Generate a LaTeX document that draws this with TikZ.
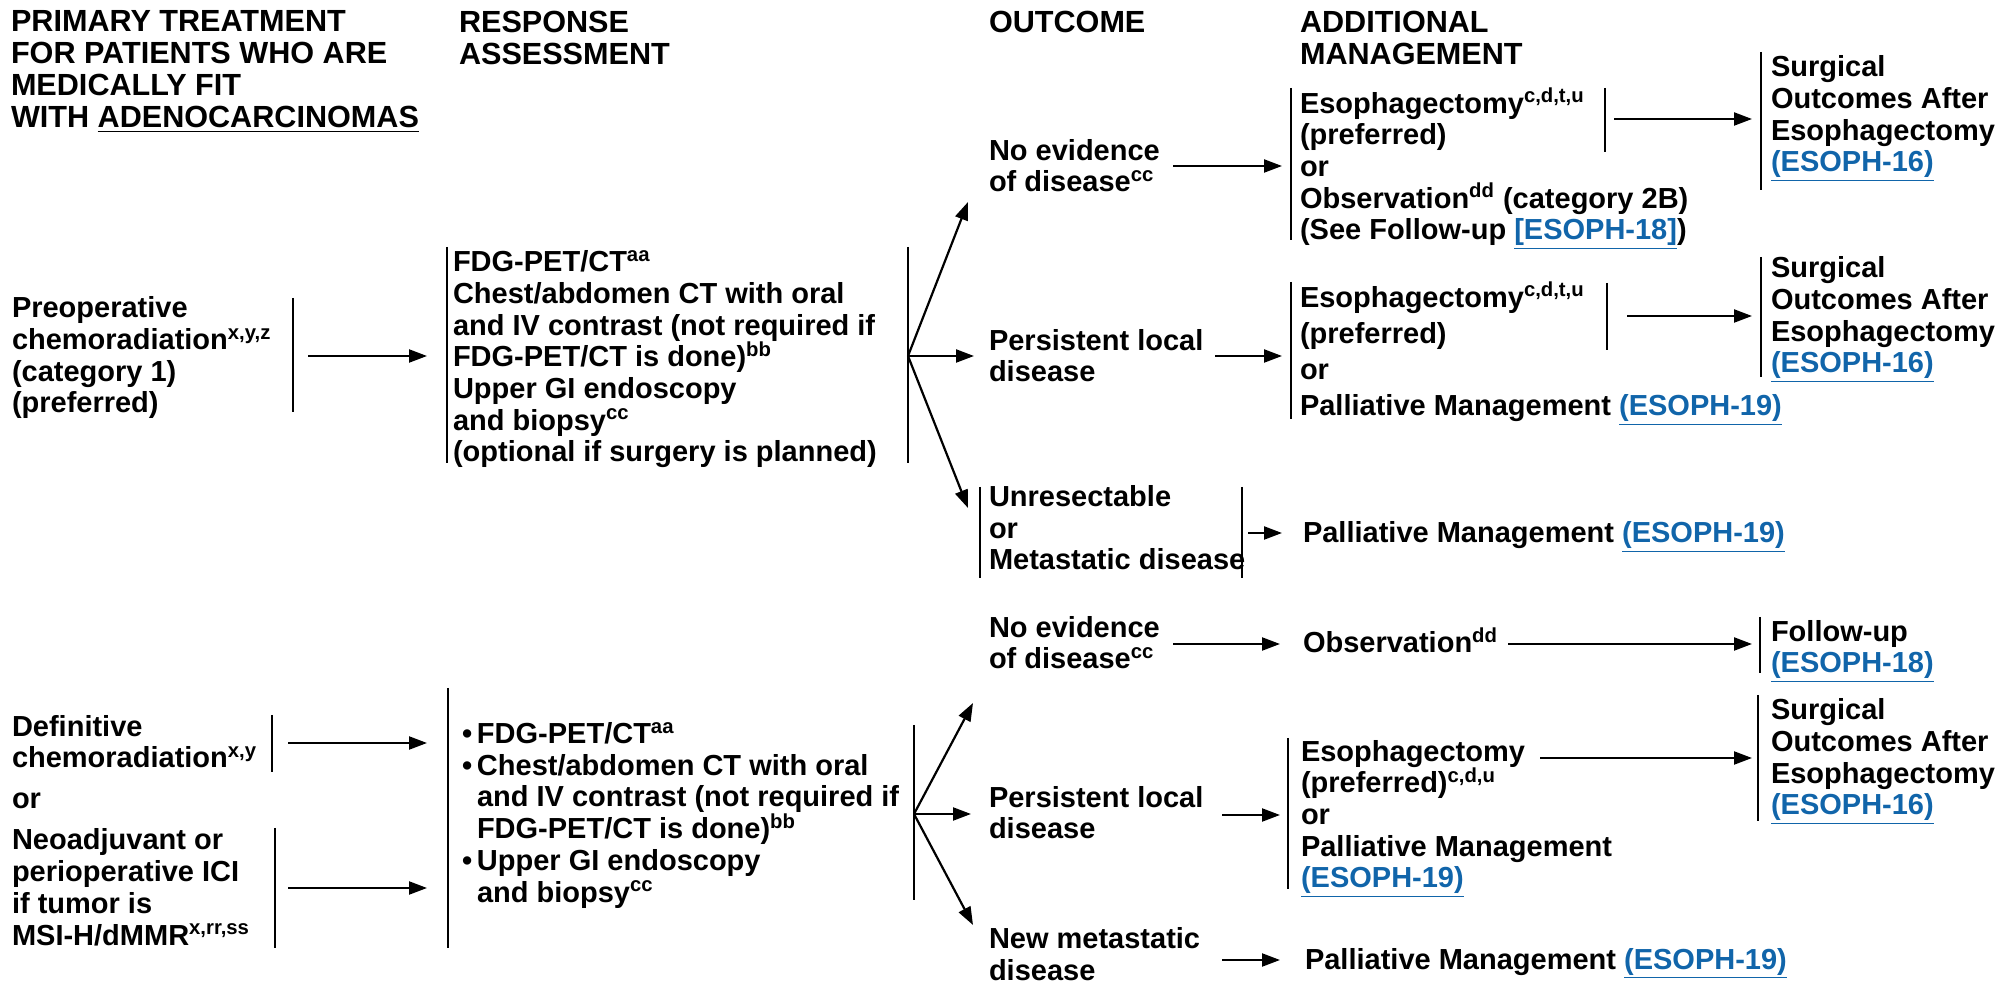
\documentclass[tikz,border=0pt]{standalone}
\usepackage{fontspec}
\setmainfont{Liberation Sans}
\usepackage{xcolor}
\usetikzlibrary{arrows.meta}
\definecolor{linkblue}{RGB}{17,101,170}
\newcommand{\lnk}[1]{\textcolor{linkblue}{\underline{#1}}}
\tikzset{
txtnode/.style = {anchor=base west, align=left, inner sep=0pt, outer sep=0pt,
  font=\bfseries\fontsize{14.5}{15.85}\selectfont}, % placed at the baseline of the last line
hdnode/.style = {txtnode, font=\bfseries\fontsize{15.3}{16}\selectfont},
%txtnode/.style = {}
bar/.style = {line width=1.1pt},
arr/.style = {line width=1.1pt, -{Triangle[length=9pt,width=6.5pt]}} % filled head
}

\begin{document}
\begin{tikzpicture}[x=0.5pt,y=-0.5pt]
\useasboundingbox (0,0) rectangle (1999,983);

% column headers
\node[hdnode] (hdprim) at (11,128) {PRIMARY TREATMENT\\FOR PATIENTS WHO ARE\\MEDICALLY FIT\\WITH \underline{ADENOCARCINOMAS}};
\node[hdnode] (hdresp) at (459,65) {RESPONSE\\ASSESSMENT};
\node[hdnode] (hdout) at (989,33) {OUTCOME};
\node[hdnode] (hdadd) at (1300,65) {ADDITIONAL\\MANAGEMENT};

% upper branch
\node[txtnode] (preop) at (12,413) {Preoperative\\chemoradiation\textsuperscript{x,y,z}\\(category 1)\\(preferred)};
\node[txtnode] (resp1) at (453,462) {FDG-PET/CT\textsuperscript{aa}\\Chest/abdomen CT with oral\\and IV contrast (not required if\\FDG-PET/CT is done)\textsuperscript{bb}\\Upper GI endoscopy\\and biopsy\textsuperscript{cc}\\(optional if surgery is planned)};
\node[txtnode] (noev1) at (989,192) {No evidence\\of disease\textsuperscript{cc}};
\node[txtnode] (pers1) at (989,382) {Persistent local\\disease};
\node[txtnode] (unres) at (989,570) {Unresectable\\or\\Metastatic disease};
\node[txtnode] (esoA) at (1300,240) {Esophagectomy\textsuperscript{c,d,t,u}\\(preferred)\\or\\Observation\textsuperscript{dd} (category 2B)\\(See Follow-up \lnk{[ESOPH-18]})};
\node[txtnode] (surgA) at (1771,172) {Surgical\\Outcomes After\\Esophagectomy\\\lnk{(ESOPH-16)}};
\node[txtnode, font=\bfseries\fontsize{14.5}{18.15}\selectfont] (esoB) at (1300,416) {Esophagectomy\textsuperscript{c,d,t,u}\\(preferred)\\or\\Palliative Management \lnk{(ESOPH-19)}};
\node[txtnode] (surgB) at (1771,373) {Surgical\\Outcomes After\\Esophagectomy\\\lnk{(ESOPH-16)}};
\node[txtnode] (palA) at (1303,543) {Palliative Management \lnk{(ESOPH-19)}};

% lower branch
\node[txtnode] (defin) at (12,768) {Definitive\\chemoradiation\textsuperscript{x,y}};
\node[txtnode] (ortxt) at (12,809) {or};
\node[txtnode] (neoadj) at (12,945) {Neoadjuvant or\\perioperative ICI\\if tumor is\\MSI-H/dMMR\textsuperscript{x,rr,ss}};
\node[txtnode] (resp2) at (462,902) {\makebox[7.5pt][l]{\textbullet}FDG-PET/CT\textsuperscript{aa}\\
  \makebox[7.5pt][l]{\textbullet}Chest/abdomen CT with oral\\
  \hspace*{7.5pt}and IV contrast (not required if\\
  \hspace*{7.5pt}FDG-PET/CT is done)\textsuperscript{bb}\\
  \makebox[7.5pt][l]{\textbullet}Upper GI endoscopy\\
  \hspace*{7.5pt}and biopsy\textsuperscript{cc}};
\node[txtnode] (noev2) at (989,669) {No evidence\\of disease\textsuperscript{cc}};
\node[txtnode] (obs) at (1303,653) {Observation\textsuperscript{dd}};
\node[txtnode] (follow) at (1771,673) {Follow-up\\\lnk{(ESOPH-18)}};
\node[txtnode] (pers2) at (989,839) {Persistent local\\disease};
\node[txtnode] (esoC) at (1301,888) {Esophagectomy\\(preferred)\textsuperscript{c,d,u}\\or\\Palliative Management\\\lnk{(ESOPH-19)}};
\node[txtnode] (surgC) at (1771,815) {Surgical\\Outcomes After\\Esophagectomy\\\lnk{(ESOPH-16)}};
\node[txtnode] (newmet) at (989,980) {New metastatic\\disease};
\node[txtnode] (palB) at (1305,969) {Palliative Management \lnk{(ESOPH-19)}};

% brackets
\foreach \x/\ya/\yb in {293/298/412, 447/247/463, 908/247/463, 980/487/578, 1242/487/578,
  1291/88/240, 1605/88/152, 1761/52/190, 1291/282/419, 1607/283/350, 1761/257/377,
  272/715/772, 275/828/948, 448/688/948, 914/725/900, 1760/617/673, 1288/738/889, 1758/695/821}
  \draw[bar] (\x,\ya) -- (\x,\yb);

% arrow ends
\coordinate (preopR) at (308,356);   \coordinate (resp1L) at (427,356);
\coordinate (fork1) at (908,356);
\coordinate (noev1L) at (968,202);   \coordinate (pers1L) at (974,356);  \coordinate (unresL) at (968,508);
\coordinate (noev1R) at (1173,166);  \coordinate (esoAL) at (1282,166);
\coordinate (esoAR) at (1614,119);   \coordinate (surgAL) at (1752,119);
\coordinate (pers1R) at (1215,356);  \coordinate (esoBL) at (1282,356);
\coordinate (esoBR) at (1627,316);   \coordinate (surgBL) at (1752,316);
\coordinate (unresR) at (1248,533);  \coordinate (palAL) at (1282,533);
\coordinate (definR) at (288,743);   \coordinate (resp2La) at (427,743);
\coordinate (neoadjR) at (288,888);  \coordinate (resp2Lb) at (427,888);
\coordinate (fork2) at (914,814);
\coordinate (noev2L) at (973,703);   \coordinate (pers2L) at (971,814);  \coordinate (newmetL) at (973,925);
\coordinate (noev2R) at (1173,644);  \coordinate (obsL) at (1280,644);
\coordinate (obsR) at (1508,644);    \coordinate (followL) at (1752,644);
\coordinate (pers2R) at (1222,815);  \coordinate (esoCL) at (1280,815);
\coordinate (esoCR) at (1540,758);   \coordinate (surgCL) at (1752,758);
\coordinate (newmetR) at (1222,960); \coordinate (palBL) at (1280,960);

\foreach \a/\b in {preopR/resp1L, fork1/noev1L, fork1/pers1L, fork1/unresL,
  noev1R/esoAL, esoAR/surgAL, pers1R/esoBL, esoBR/surgBL, unresR/palAL,
  definR/resp2La, neoadjR/resp2Lb, fork2/noev2L, fork2/pers2L, fork2/newmetL,
  noev2R/obsL, obsR/followL, pers2R/esoCL, esoCR/surgCL, newmetR/palBL}
  \draw[arr] (\a) -- (\b);
\end{tikzpicture}
\end{document}
